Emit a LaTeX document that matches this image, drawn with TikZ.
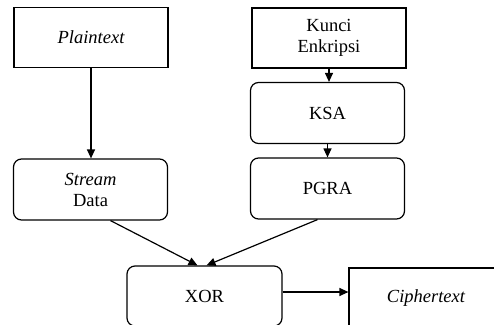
\documentclass[tikz,border=0pt]{standalone}
\usepackage{fontspec}
\setmainfont{Liberation Serif}
\newfontfamily\tms{Liberation Serif}
\usetikzlibrary{arrows.meta}
\begin{document}
\begin{tikzpicture}[x=1pt,y=-1pt,
  every node/.style={font=\tms\fontsize{18.5}{21}\selectfont, align=center, inner sep=0pt},
  sqbox/.style={draw, line width=1.2pt, minimum width=154pt, minimum height=60pt},
  rbox/.style={draw, line width=1.2pt, rounded corners=8pt, minimum width=154pt, minimum height=61pt},
  arr/.style={line width=1.2pt, -{Triangle[length=9pt,width=8pt]}}]
\useasboundingbox (0,0) rectangle (494,324);
\clip (0,0) rectangle (494,324);
\node[sqbox] (plain) at (91,37.5) {\itshape Plaintext};
\node[rbox] (stream) at (90.5,189.5) {\itshape Stream\\Data};
\node[sqbox] (kunci) at (329,38) {Kunci\\Enkripsi};
\node[rbox] (ksa) at (327.5,113) {KSA};
\node[rbox] (pgra) at (327.5,188.5) {PGRA};
\node[rbox, minimum width=155pt, minimum height=60pt] (xor) at (204.5,296) {XOR};
\node[sqbox] (cipher) at (426,298) {\itshape Ciphertext};
\draw[arr] (plain.south) -- (plain.south |- stream.north);
\draw[arr] (kunci.south) -- (kunci.south |- ksa.north);
\draw[arr] (ksa.south) -- (ksa.south |- pgra.north);
\draw[arr] ([xshift=20pt]stream.south) -- ([xshift=-7pt]xor.north);
\draw[arr] ([xshift=-10pt]pgra.south) -- ([xshift=2pt]xor.north);
\draw[arr] ([yshift=4pt]xor.east) -- ([yshift=4pt]xor.east -| cipher.west);
\end{tikzpicture}
\end{document}
